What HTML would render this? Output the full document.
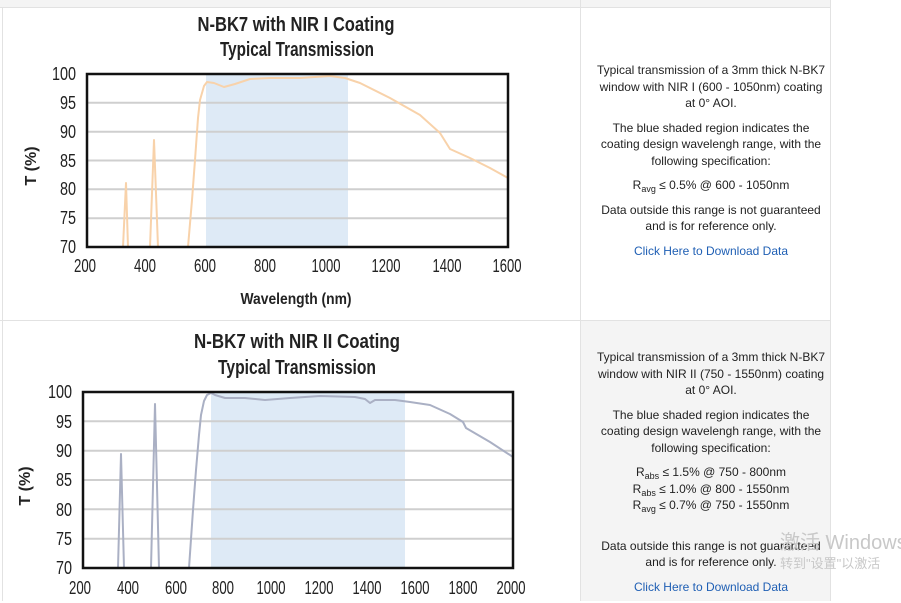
<!DOCTYPE html>
<html><head><meta charset="utf-8"><style>
html,body{margin:0;padding:0;background:#fff;width:901px;height:601px;overflow:hidden;font-family:"Liberation Sans","Noto Sans CJK SC",sans-serif}
.t{position:absolute;left:593px;width:236px;text-align:center;font-size:12px;color:#222;line-height:16.5px}
.t p{margin:0 0 8px 0}
a{color:#1f5fb4;text-decoration:none}
sub{font-size:9px;vertical-align:-3px;line-height:0}
</style></head><body>
<svg width="901" height="601" style="position:absolute;left:0;top:0" font-family="Liberation Sans, sans-serif">
<rect x="0" y="0" width="831" height="7" fill="#f4f4f4"/>
<rect x="581" y="321" width="249" height="280" fill="#f4f4f4"/>
<line x1="0" y1="7.5" x2="831" y2="7.5" stroke="#e2e2e2"/>
<line x1="0" y1="320.5" x2="831" y2="320.5" stroke="#e2e2e2"/>
<line x1="2.5" y1="7" x2="2.5" y2="601" stroke="#e2e2e2"/>
<line x1="580.5" y1="0" x2="580.5" y2="601" stroke="#e2e2e2"/>
<line x1="830.5" y1="0" x2="830.5" y2="601" stroke="#e2e2e2"/>

<!-- chart 1 -->
<g font-weight="bold" fill="#222">
<text x="296" y="31" text-anchor="middle" font-size="20" textLength="197" lengthAdjust="spacingAndGlyphs">N-BK7 with NIR I Coating</text>
<text x="297" y="56" text-anchor="middle" font-size="20" textLength="154" lengthAdjust="spacingAndGlyphs">Typical Transmission</text>
</g>
<rect x="206" y="74" width="142" height="173" fill="#deeaf6"/>
<g stroke="#cfcfcf" stroke-width="2">
<line x1="87" x2="508" y1="102.8" y2="102.8"/><line x1="87" x2="508" y1="131.7" y2="131.7"/>
<line x1="87" x2="508" y1="160.5" y2="160.5"/><line x1="87" x2="508" y1="189.3" y2="189.3"/>
<line x1="87" x2="508" y1="218.2" y2="218.2"/>
</g>
<g fill="none" stroke="#f8d2aa" stroke-width="2" stroke-linejoin="round">
<polyline points="123,247 126,183 128,247"/>
<polyline points="150,247 154,140 158,247"/>
<polyline points="188,247 192,200 195,160 198,118 200,100 204,86 207,82 214,83 224,87 235,84 250,79 270,78 300,78 330,76 345,78 360,83 390,98 420,115 440,133 450,149 470,158 490,168 508,178"/>
</g>
<rect x="87" y="74" width="421" height="173" fill="none" stroke="#111" stroke-width="2.5"/>
<g font-size="18" fill="#222" text-anchor="end" lengthAdjust="spacingAndGlyphs">
<text x="76" y="80" textLength="24" lengthAdjust="spacingAndGlyphs">100</text>
<text x="76" y="109" textLength="16" lengthAdjust="spacingAndGlyphs">95</text><text x="76" y="138" textLength="16" lengthAdjust="spacingAndGlyphs">90</text><text x="76" y="167" textLength="16" lengthAdjust="spacingAndGlyphs">85</text>
<text x="76" y="195" textLength="16" lengthAdjust="spacingAndGlyphs">80</text><text x="76" y="224" textLength="16" lengthAdjust="spacingAndGlyphs">75</text><text x="76" y="253" textLength="16" lengthAdjust="spacingAndGlyphs">70</text>
</g>
<g font-size="18" fill="#222" text-anchor="middle">
<text x="85" y="272" textLength="22" lengthAdjust="spacingAndGlyphs">200</text><text x="145" y="272" textLength="22" lengthAdjust="spacingAndGlyphs">400</text><text x="205" y="272" textLength="22" lengthAdjust="spacingAndGlyphs">600</text>
<text x="265" y="272" textLength="22" lengthAdjust="spacingAndGlyphs">800</text><text x="326" y="272" textLength="29" lengthAdjust="spacingAndGlyphs">1000</text><text x="386" y="272" textLength="29" lengthAdjust="spacingAndGlyphs">1200</text>
<text x="447" y="272" textLength="29" lengthAdjust="spacingAndGlyphs">1400</text><text x="507" y="272" textLength="29" lengthAdjust="spacingAndGlyphs">1600</text>
</g>
<text x="296" y="304" text-anchor="middle" font-size="16" font-weight="bold" fill="#222" textLength="111" lengthAdjust="spacingAndGlyphs">Wavelength (nm)</text>
<text transform="translate(36,166) rotate(-90)" text-anchor="middle" font-size="16" font-weight="bold" fill="#222">T (%)</text>

<!-- chart 2 -->
<g font-weight="bold" fill="#222">
<text x="297" y="348" text-anchor="middle" font-size="20" textLength="206" lengthAdjust="spacingAndGlyphs">N-BK7 with NIR II Coating</text>
<text x="297" y="374" text-anchor="middle" font-size="20" textLength="158" lengthAdjust="spacingAndGlyphs">Typical Transmission</text>
</g>
<rect x="211" y="392" width="194" height="176" fill="#deeaf6"/>
<g stroke="#cfcfcf" stroke-width="2">
<line x1="83" x2="513" y1="421.3" y2="421.3"/><line x1="83" x2="513" y1="450.7" y2="450.7"/>
<line x1="83" x2="513" y1="480" y2="480"/><line x1="83" x2="513" y1="509.3" y2="509.3"/>
<line x1="83" x2="513" y1="538.7" y2="538.7"/>
</g>
<g fill="none" stroke="#aab0c4" stroke-width="2" stroke-linejoin="round">
<polyline points="118,568 121,454 124,568"/>
<polyline points="151,568 155,404 159,568"/>
<polyline points="189,568 193,510 196,470 199,435 201,415 204,401 207,395 211,393 215,395 225,398 245,398 265,400 290,398 320,396 355,397 365,399 370,403 375,400 395,400 410,402 430,405 450,414 463,422 466,428 490,442 513,457"/>
</g>
<rect x="83" y="392" width="430" height="176" fill="none" stroke="#111" stroke-width="2.5"/>
<g font-size="18" fill="#222" text-anchor="end">
<text x="72" y="398" textLength="24" lengthAdjust="spacingAndGlyphs">100</text>
<text x="72" y="428" textLength="16" lengthAdjust="spacingAndGlyphs">95</text><text x="72" y="457" textLength="16" lengthAdjust="spacingAndGlyphs">90</text><text x="72" y="486" textLength="16" lengthAdjust="spacingAndGlyphs">85</text>
<text x="72" y="516" textLength="16" lengthAdjust="spacingAndGlyphs">80</text><text x="72" y="545" textLength="16" lengthAdjust="spacingAndGlyphs">75</text><text x="72" y="574" textLength="16" lengthAdjust="spacingAndGlyphs">70</text>
</g>
<g font-size="18" fill="#222" text-anchor="middle">
<text x="80" y="594" textLength="22" lengthAdjust="spacingAndGlyphs">200</text><text x="128" y="594" textLength="22" lengthAdjust="spacingAndGlyphs">400</text><text x="176" y="594" textLength="22" lengthAdjust="spacingAndGlyphs">600</text>
<text x="223" y="594" textLength="22" lengthAdjust="spacingAndGlyphs">800</text><text x="271" y="594" textLength="29" lengthAdjust="spacingAndGlyphs">1000</text><text x="319" y="594" textLength="29" lengthAdjust="spacingAndGlyphs">1200</text>
<text x="367" y="594" textLength="29" lengthAdjust="spacingAndGlyphs">1400</text><text x="415" y="594" textLength="29" lengthAdjust="spacingAndGlyphs">1600</text>
<text x="463" y="594" textLength="29" lengthAdjust="spacingAndGlyphs">1800</text><text x="511" y="594" textLength="29" lengthAdjust="spacingAndGlyphs">2000</text>
</g>
<text transform="translate(30,486) rotate(-90)" text-anchor="middle" font-size="16" font-weight="bold" fill="#222">T (%)</text>
</svg>

<div class="t" style="top:62px">
<p>Typical transmission of a 3mm thick N-BK7 window with NIR I (600 - 1050nm) coating at 0° AOI.</p>
<p>The blue shaded region indicates the coating design wavelengh range, with the following specification:</p>
<p>R<sub>avg</sub> ≤ 0.5% @ 600 - 1050nm</p>
<p>Data outside this range is not guaranteed and is for reference only.</p>
<p><a>Click Here to Download Data</a></p>
</div>
<div class="t" style="top:349px">
<p>Typical transmission of a 3mm thick N-BK7 window with NIR II (750 - 1550nm) coating at 0° AOI.</p>
<p>The blue shaded region indicates the coating design wavelengh range, with the following specification:</p>
<p style="margin-bottom:24px">R<sub>abs</sub> ≤ 1.5% @ 750 - 800nm<br>R<sub>abs</sub> ≤ 1.0% @ 800 - 1550nm<br>R<sub>avg</sub> ≤ 0.7% @ 750 - 1550nm</p>
<p>Data outside this range is not guaranteed and is for reference only.</p>
<p><a>Click Here to Download Data</a></p>
</div>
<div style="position:absolute;left:780px;top:526px;font-size:20px;color:#c8c8c8;white-space:nowrap">激活 Windows</div>
<div style="position:absolute;left:780px;top:553px;font-size:13px;color:#c8c8c8;white-space:nowrap">转到"设置"以激活</div>
</body></html>
